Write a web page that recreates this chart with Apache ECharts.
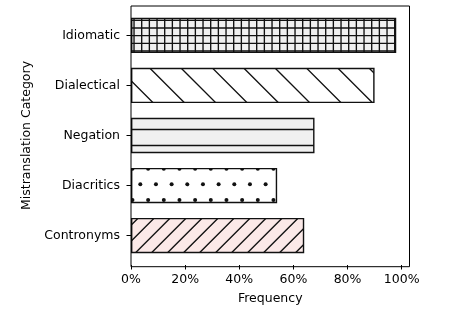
<!DOCTYPE html>
<html><head><meta charset="utf-8">
<script src="https://cdn.jsdelivr.net/npm/echarts@6/dist/echarts.min.js"></script>
<style>html,body{margin:0;padding:0;background:#fff}#c{width:464px;height:310px}</style>
</head><body><div id="c"></div>
<script>
const categories = ['Idiomatic', 'Dialectical', 'Negation', 'Diacritics', 'Contronyms'];
const frequencies = [98, 90, 67.8, 54, 64];
const xTicks = [0, 20, 40, 60, 80, 100];
const xMax = 98 * 1.05;

function mod(a, b) { return ((a % b) + b) % b; }
function makeTile(T, bg, draw) {
  const c = document.createElement('canvas');
  c.width = T; c.height = T;
  const g = c.getContext('2d');
  g.fillStyle = bg; g.fillRect(0, 0, T, T);
  g.strokeStyle = '#111'; g.fillStyle = '#111'; g.lineWidth = 1.35;
  draw(g, T);
  return c;
}
const hatchTiles = [
  makeTile(92, '#f0f0f0', (g, T) => { // grid
    const s = T / 12, px = mod(302.7, s), py = mod(28, s);
    g.beginPath();
    for (let k = -1; k <= 13; k++) {
      const x = px + k * s; g.moveTo(x, -2); g.lineTo(x, T + 2);
      const y = py + k * s; g.moveTo(-2, y); g.lineTo(T + 2, y);
    }
    g.stroke();
  }),
  makeTile(94, '#ffffff', (g, T) => { // back slash
    const s = T / 3, c0 = mod(81.7, s);
    g.beginPath();
    for (let k = -9; k <= 9; k++) { const c = c0 + k * s; g.moveTo(c - 2 * T, -2 * T); g.lineTo(c + 2 * T, 2 * T); }
    g.stroke();
  }),
  makeTile(96, '#f0f0f0', (g, T) => { // horizontal
    const s = T / 6, y0 = mod(129.5, s);
    g.beginPath();
    for (let k = -1; k <= 7; k++) { const y = y0 + k * s; g.moveTo(-2, y); g.lineTo(T + 2, y); }
    g.stroke();
  }),
  makeTile(94, '#ffffff', (g, T) => { // dots
    const s = T / 6, yb = mod(184.3, T);
    for (let j = -7; j <= 7; j++) {
      const y = yb + j * s;
      if (y < -4 || y > T + 4) continue;
      const xb = mod(140.3 + (Math.abs(j) % 2 ? s / 2 : 0), s);
      for (let i = -1; i <= 7; i++) {
        const x = xb + i * s;
        g.beginPath(); g.arc(x, y, 2, 0, Math.PI * 2); g.fill();
      }
    }
  }),
  makeTile(96, '#fbe9e8', (g, T) => { // slash
    const s = T / 6, c0 = mod(468.3, s);
    g.beginPath();
    for (let k = -15; k <= 20; k++) { const c = c0 + k * s; g.moveTo(c + 2 * T, -2 * T); g.lineTo(c - 2 * T, 2 * T); }
    g.stroke();
  })
];

const FONT = 'DejaVu Sans';
const FS = 12.5;
const chart = echarts.init(document.getElementById('c'), null, { renderer: 'canvas' });
chart.setOption({
  animation: false,
  backgroundColor: '#fff',
  textStyle: { fontFamily: FONT },
  grid: [
    { left: 131, right: 54.5, top: 10.35, bottom: 47.65, containLabel: false },
    { left: 131, right: 54.5, top: 6, bottom: 43.3, show: true, borderColor: '#000', borderWidth: 1, backgroundColor: 'transparent', z: 5 }
  ],
  xAxis: [
    {
      type: 'value', gridIndex: 0, min: 0, max: xMax, offset: 4.35,
      splitLine: { show: false }, axisLine: { show: false },
      axisTick: { show: true, length: 4.5, lineStyle: { color: '#000', width: 1 }, customValues: xTicks },
      axisLabel: { customValues: xTicks, formatter: v => v + '%', color: '#000', fontSize: FS, fontFamily: FONT, margin: 8.5 },
      name: 'Frequency', nameLocation: 'middle', nameGap: 27,
      nameTextStyle: { color: '#000', fontSize: FS, fontFamily: FONT }
    },
    { type: 'value', gridIndex: 1, show: false, min: 0, max: 1 }
  ],
  yAxis: [
    {
      type: 'category', gridIndex: 0, data: categories, inverse: true,
      axisLine: { show: false },
      axisTick: { show: true, alignWithLabel: true, length: 4.5, lineStyle: { color: '#000', width: 1 } },
      axisLabel: { color: '#000', fontSize: FS, fontFamily: FONT, margin: 11, padding: [1.5, 0, 0, 0] },
      name: 'Mistranslation Category', nameLocation: 'middle', nameRotate: 90, nameGap: 92.5,
      nameTextStyle: { color: '#000', fontSize: FS, fontFamily: FONT }
    },
    { type: 'value', gridIndex: 1, show: false, min: 0, max: 1 }
  ],
  series: [{
    type: 'bar', xAxisIndex: 0, yAxisIndex: 0, barWidth: 35.3,
    data: frequencies.map((v, i) => ({
      value: v,
      itemStyle: { color: { image: hatchTiles[i], repeat: 'repeat' }, borderColor: '#111', borderWidth: 1.4 }
    })),
    emphasis: { disabled: true },
    silent: true
  }]
});
</script></body></html>
